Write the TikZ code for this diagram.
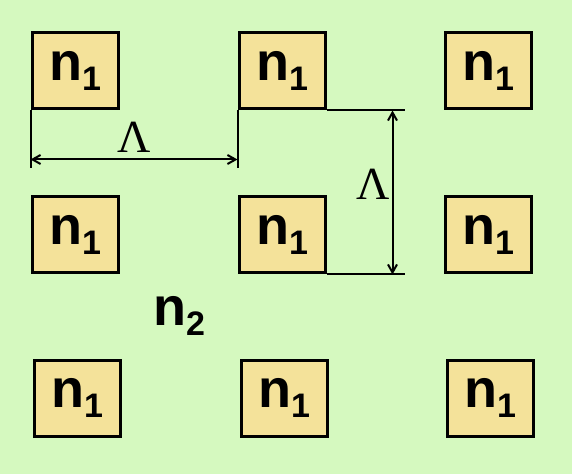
\documentclass[tikz,border=0pt]{standalone}
\usepackage{fontspec}
\usepackage{xcolor}
\setmainfont{Liberation Serif}
\newfontfamily\cellfont{Liberation Sans}
\definecolor{palegreen}{RGB}{213,249,191}
\definecolor{cellfill}{RGB}{244,226,154}
\usetikzlibrary{arrows.meta}

\newcommand{\nlabel}[1]{{\cellfont\bfseries\fontsize{54}{54}\selectfont n\raisebox{-10pt}{\fontsize{34}{34}\selectfont #1}}}

\begin{document}
\begin{tikzpicture}[
            cellbox/.style={shape=rectangle, fill=cellfill, draw=black, line width=3pt,
                            minimum width=86pt, minimum height=76pt, inner sep=0pt},
            dimline/.style={line width=2pt},
            dimarrow/.style={line width=2pt, {Straight Barb[length=8pt,width=9pt]}-{Straight Barb[length=8pt,width=9pt]}},
            lambda/.style={font=\fontsize{46}{46}\selectfont, inner sep=0pt}
            ]

            % Background
            \fill[palegreen] (0pt, 0pt) rectangle (572pt, 474pt);
            \useasboundingbox (0pt, 0pt) rectangle (572pt, 474pt);

            % Cells
            \foreach \r/\y/\dx in {1/403pt/0pt, 2/239pt/0pt, 3/76pt/2pt} {
                \foreach \c/\x in {1/75pt, 2/282pt, 3/488pt} {
                    \node[cellbox] (b\r\c) at ([xshift=\dx]\x, \y) {\nlabel{1}};
                }
            }

            % Host medium
            \node[anchor=base west, inner sep=0pt] (host) at (153pt, 149pt) {\nlabel{2}};

            % Horizontal period
            \coordinate (hA) at ([yshift=-58pt]b11.south west);
            \coordinate (hB) at ([yshift=-58pt]b12.south west);
            \draw[dimline] (b11.south west) -- (hA);
            \draw[dimline] (b12.south west) -- (hB);
            \draw[dimarrow] ([yshift=9pt]hA) -- node[lambda, above=6pt] (lamh) {Λ} ([yshift=9pt]hB);

            % Vertical period
            \coordinate (vA) at ([xshift=78pt]b12.south east);
            \coordinate (vB) at ([xshift=78pt]b22.south east);
            \draw[dimline] (b12.south east) -- (vA);
            \draw[dimline] (b22.south east) -- (vB);
            \draw[dimarrow] ([xshift=-12pt]vA) -- node[lambda, left=2pt, yshift=8pt] (lamv) {Λ} ([xshift=-12pt]vB);
\end{tikzpicture}
\end{document}
